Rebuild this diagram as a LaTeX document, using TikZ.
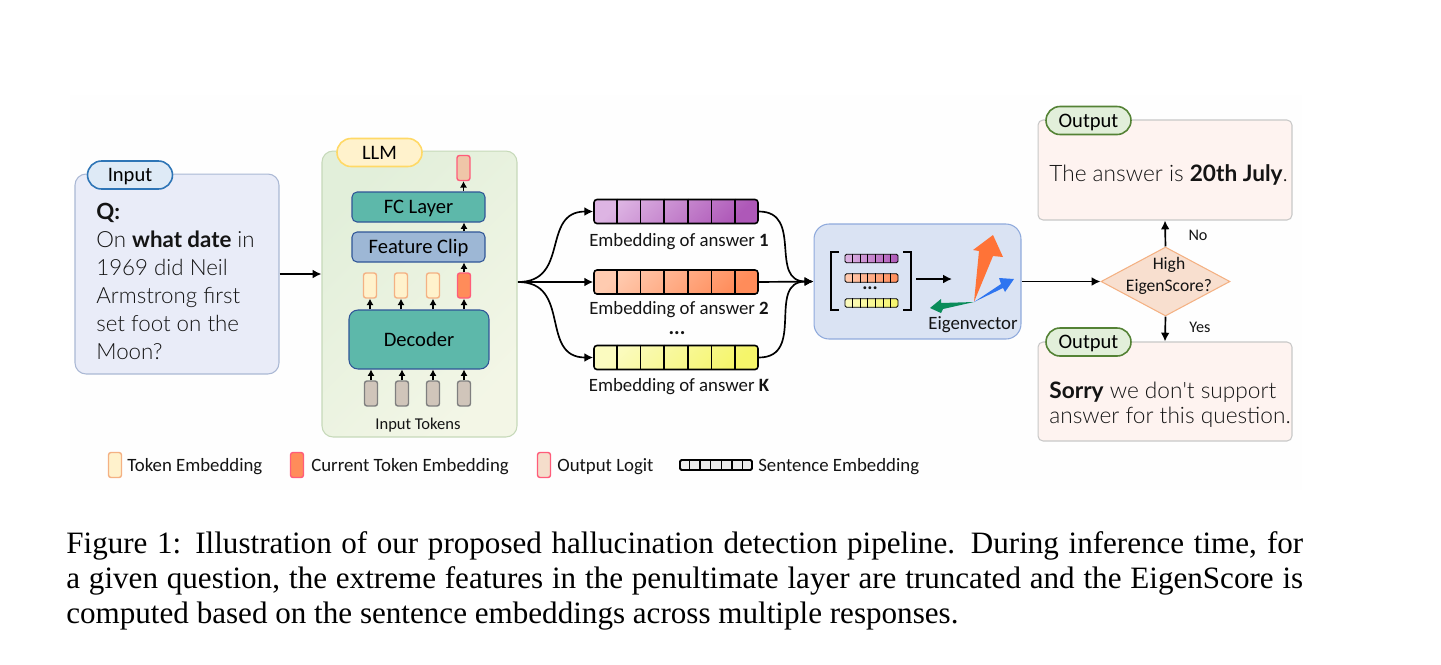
\documentclass[tikz,border=0pt]{standalone}
\usepackage{fontspec}
\setmainfont{Carlito}
\newfontfamily\handfont{Lato}[UprightFont=* Light, BoldFont=* Bold]
\newfontfamily\capfont{Liberation Serif}
\usepackage{xcolor}
\usepackage{tikz}
\usetikzlibrary{shapes.geometric, positioning, arrows.meta, calc}
\definecolor{HDInk}{RGB}{20,20,20}
\definecolor{HDTint}{RGB}{254,254,254}
\definecolor{HDInputFill}{RGB}{233,236,248}
\definecolor{HDInputEdge}{RGB}{170,184,212}
\definecolor{HDBlue}{RGB}{46,117,182}
\definecolor{HDPale}{RGB}{222,234,246}
\definecolor{HDYellow}{RGB}{255,242,204}
\definecolor{HDGold}{RGB}{255,217,102}
\definecolor{HDTeal}{RGB}{93,184,170}
\definecolor{HDNavy}{RGB}{47,85,151}
\definecolor{HDSteel}{RGB}{157,183,213}
\definecolor{HDPeach}{RGB}{244,177,131}
\definecolor{HDCoral}{RGB}{255,140,90}
\definecolor{HDPink}{RGB}{255,92,122}
\definecolor{HDLogit}{RGB}{239,198,168}
\definecolor{HDTaupe}{RGB}{208,197,186}
\definecolor{HDGray}{RGB}{127,127,127}
\definecolor{HDEigen}{RGB}{218,227,243}
\definecolor{HDEigenEdge}{RGB}{143,170,220}
\definecolor{HDRose}{RGB}{254,243,240}
\definecolor{HDRoseEdge}{RGB}{200,200,200}
\definecolor{HDLeaf}{RGB}{226,239,218}
\definecolor{HDGreen}{RGB}{84,130,53}
\definecolor{HDDiamond}{RGB}{248,223,207}
\definecolor{HDPurpleA}{RGB}{221,180,227}
\definecolor{HDPurpleB}{RGB}{174,88,184}
\definecolor{HDOrangeA}{RGB}{255,203,176}
\definecolor{HDLemonA}{RGB}{251,251,192}
\definecolor{HDLemonB}{RGB}{245,245,106}
\definecolor{HDArrowBlue}{RGB}{46,117,240}
\definecolor{HDArrowGreen}{RGB}{10,140,90}
\definecolor{HDArrowOrange}{RGB}{255,115,55}
\tikzset{
  pill/.style={draw, rounded corners=0.28cm, line width=0.9pt, minimum width=1.7cm,
    minimum height=0.56cm, inner sep=0pt, text height=0.26cm, text depth=0pt, font=\fontsize{11.7}{13}\selectfont},
  panel/.style={draw, rounded corners=0.22cm, line width=0.6pt, inner sep=0pt},
  block/.style={draw=HDNavy, rounded corners=0.1cm, line width=0.6pt, inner sep=0pt,
    minimum width=2.66cm, minimum height=0.6cm, text height=0.26cm, text depth=0pt, font=\fontsize{11.7}{13}\selectfont},
  chip/.style={rounded corners=0.05cm, line width=0.8pt, minimum width=0.26cm,
    minimum height=0.5cm, inner sep=0pt},
  tokenchip/.style={chip, draw=HDPeach, fill=HDYellow},
  currentchip/.style={chip, draw=HDPink, fill=HDCoral},
  logitchip/.style={chip, draw=HDPink, fill=HDLogit},
  inputchip/.style={chip, draw=HDGray, fill=HDTaupe},
  ansbar/.style={draw=black, rounded corners=0.06cm, line width=0.9pt, minimum width=3.28cm,
    minimum height=0.48cm, inner sep=0pt},
  minibar/.style={draw=black, rounded corners=0.03cm, line width=0.5pt, minimum width=1.06cm,
    minimum height=0.17cm, inner sep=0pt},
  plain/.style={inner sep=0pt, text=HDInk, font=\fontsize{10.7}{12}\selectfont},
  hand/.style={inner sep=0pt, text=HDInk, anchor=west, font=\handfont\fontsize{12.9}{14.2}\selectfont},
  flow/.style={-{Latex[length=5pt,width=5pt]}, line width=0.95pt},
  tiny/.style={-{Latex[length=3.6pt,width=4pt]}, line width=0.65pt}
}
\newcommand{\cellrules}[2]{\foreach \d in {1,...,6}
  \draw[line width=#2] ($(#1.north west)!\d/7!(#1.north east)$) -- ($(#1.south west)!\d/7!(#1.south east)$);}
\begin{document}
\begin{tikzpicture}[x=0.02cm, y=-0.02cm]
  \useasboundingbox (0,0) rectangle (1441,664);
  \fill[HDTint] (70,95) rectangle (1302,490);

  \node[panel, draw=HDInputEdge, fill=HDInputFill, minimum width=4.08cm, minimum height=4cm] (input) at (177,274) {};
  \node[pill, draw=HDBlue, fill=HDPale] (inputtag) at (130,175) {Input};
  \node[inner sep=0pt, anchor=north west, align=left, text=HDInk, font=\handfont\fontsize{12.7}{15.9}\selectfont] (question) at (96,203)
    {\textbf{Q:}\\On \textbf{what date} in\\1969 did Neil\\Armstrong first\\set foot on the\\Moon?};

  \node[panel, draw=HDLeaf!80!HDGreen, left color=HDLeaf, right color=HDYellow!30!HDLeaf!60!white, shading angle=45,
    minimum width=3.9cm, minimum height=5.72cm] (llm) at (419.5,294) {};
  \node[pill, draw=HDGold, fill=HDYellow] (llmtag) at (379.5,152.5) {LLM};
  \node[logitchip] (logit) at (463.5,168) {};
  \node[block, fill=HDTeal] (fc) at (418.5,207) {FC Layer};
  \node[block, fill=HDSteel] (clip) at (418.5,247) {Feature Clip};
  \node[tokenchip] (tokA) at (370,285.5) {};
  \node[tokenchip] (tokB) at (401,285.5) {};
  \node[tokenchip] (tokC) at (433,285.5) {};
  \node[currentchip] (tokD) at (464,285.5) {};
  \node[block, fill=HDTeal, rounded corners=0.18cm, minimum width=2.8cm, minimum height=1.18cm] (dec) at (419,339.5) {Decoder};
  \node[inputchip] (inA) at (371,393.5) {};
  \node[inputchip] (inB) at (402,393.5) {};
  \node[inputchip] (inC) at (433,393.5) {};
  \node[inputchip] (inD) at (464,393.5) {};
  \node[plain, font=\fontsize{9.4}{11}\selectfont] (inlabel) at (418,425) {Input Tokens};
  \draw[tiny] (inA.north) -- (inA.north |- dec.south);
  \draw[tiny] (inB.north) -- (inB.north |- dec.south);
  \draw[tiny] (inC.north) -- (inC.north |- dec.south);
  \draw[tiny] (inD.north) -- (inD.north |- dec.south);
  \draw[tiny] (tokA.south |- dec.north) -- (tokA.south);
  \draw[tiny] (tokB.south |- dec.north) -- (tokB.south);
  \draw[tiny] (tokC.south |- dec.north) -- (tokC.south);
  \draw[tiny] (tokD.south |- dec.north) -- (tokD.south);
  \draw[tiny] (tokD.north) -- (tokD.north |- clip.south);
  \draw[tiny] (tokD.north |- clip.north) -- (tokD.north |- fc.south);
  \draw[tiny] (logit.south |- fc.north) -- (logit.south);
  \draw[flow] (input.east) -- (llm.west |- input.east);

  \node[ansbar, left color=HDPurpleA, right color=HDPurpleB, shading angle=45] (ansA) at (676,211.5) {};
  \node[ansbar, left color=HDOrangeA, right color=HDCoral, shading angle=45] (ansB) at (676,282) {};
  \node[ansbar, left color=HDLemonA, right color=HDLemonB, shading angle=45] (ansC) at (676,357.5) {};
  \cellrules{ansA}{0.8pt}
  \cellrules{ansB}{0.8pt}
  \cellrules{ansC}{0.8pt}
  \node[plain] (ansAtext) at (679,242) {Embedding of answer \textbf{1}};
  \node[plain] (ansBtext) at (679,310) {Embedding of answer \textbf{2}};
  \node[plain, font=\bfseries\fontsize{12}{14}\selectfont] (ansdots) at (677,333) {...};
  \node[plain] (ansCtext) at (679,387) {Embedding of answer \textbf{K}};

  \coordinate (fan) at (518,282);
  \draw[flow] (fan) to[out=0, in=180, looseness=1.3] (ansA.west);
  \draw[flow] (fan) -- (ansB.west);
  \draw[flow] (fan) to[out=0, in=180, looseness=1.3] (ansC.west);

  \node[panel, draw=HDEigenEdge, fill=HDEigen, rounded corners=0.3cm, minimum width=4.14cm, minimum height=2.3cm] (eigen) at (917.5,281.5) {};
  \draw[flow] (ansA.east) to[out=0, in=180, looseness=1.3] (eigen.west);
  \draw[flow] (ansB.east) -- (eigen.west);
  \draw[flow] (ansC.east) to[out=0, in=180, looseness=1.3] (eigen.west);

  \node[minibar, left color=HDPurpleA, right color=HDPurpleB] (miniA) at (871.5,258.5) {};
  \node[minibar, left color=HDOrangeA, right color=HDCoral] (miniB) at (871.5,278) {};
  \node[minibar, left color=HDLemonA, right color=HDLemonB] (miniC) at (871.5,303) {};
  \cellrules{miniA}{0.4pt}
  \cellrules{miniB}{0.4pt}
  \cellrules{miniC}{0.4pt}
  \node[plain, font=\bfseries\fontsize{11}{13}\selectfont] (minidots) at (870,288) {...};
  \draw[line width=1.2pt] (839,252) -- (831,252) -- (831,310) -- (839,310);
  \draw[line width=1.2pt] (903,252) -- (911,252) -- (911,310) -- (903,310);
  \coordinate (matout) at (916,279);
  \coordinate (matto) at (952,279);
  \draw[flow] (matout) -- (matto);
  \fill[HDArrowOrange] (974,302) -- (979,251) -- (973,250) -- (993,235) -- (1003,257) -- (993,256) -- cycle;
  \fill[HDArrowBlue] (974,302) -- (1001,284) -- (999,278) -- (1014,279) -- (1005,292) -- (1003,288) -- cycle;
  \fill[HDArrowGreen] (974,302) -- (941,303) -- (941,299) -- (930,308) -- (941,313) -- (943,309) -- cycle;
  \node[plain] (eigenlabel) at (973,325) {Eigenvector};

  \node[diamond, draw=HDPeach, fill=HDDiamond, line width=0.6pt, minimum width=2.58cm, minimum height=1.38cm, inner sep=0pt] (score) at (1165.5,281.5) {};
  \node[plain, align=center, font=\fontsize{10}{12.5}\selectfont] (scoretext) at (1169,276) {High\\EigenScore?};
  \draw[flow] (eigen.east) -- (score.west);

  \node[panel, draw=HDRoseEdge, fill=HDRose, rounded corners=0.1cm, minimum width=5.08cm, minimum height=2cm] (outA) at (1165,170) {};
  \node[pill, draw=HDGreen, fill=HDLeaf] (outAtag) at (1088.5,120.5) {Output};
  \node[hand] (outAtext) at (1049,174.5) {The answer is \textbf{20th July}.};
  \node[panel, draw=HDRoseEdge, fill=HDRose, rounded corners=0.1cm, minimum width=5.08cm, minimum height=1.98cm] (outB) at (1165,391.5) {};
  \node[pill, draw=HDGreen, fill=HDLeaf] (outBtag) at (1088.5,342) {Output};
  \node[hand, align=left] (outBtext) at (1049,405) {\textbf{Sorry} we don't support\\answer for this question.};
  \draw[flow] (score.north) -- (outA.south);
  \draw[flow] (score.south) -- (outB.north);
  \node[plain, font=\fontsize{9.2}{11}\selectfont] (nolabel) at (1198,235) {No};
  \node[plain, font=\fontsize{9.2}{11}\selectfont] (yeslabel) at (1200,327) {Yes};

  \node[tokenchip] (keyA) at (115,465) {};
  \node[plain, anchor=west] (keyAtext) at (127,467) {Token Embedding};
  \node[currentchip] (keyB) at (297,465) {};
  \node[plain, anchor=west] (keyBtext) at (311,467) {Current Token Embedding};
  \node[logitchip, fill=HDLogit!60!white] (keyC) at (544,465) {};
  \node[plain, anchor=west] (keyCtext) at (557,467) {Output Logit};
  \node[minibar, fill=black!8, line width=1.1pt, minimum width=1.44cm, minimum height=0.2cm] (keyD) at (716,465) {};
  \cellrules{keyD}{0.8pt}
  \node[plain, anchor=west] (keyDtext) at (758,467) {Sentence Embedding};

  \node[inner sep=0pt, anchor=north west, text width=24.74cm, align=justify, text=black,
    font=\capfont\fontsize{17.7}{19.9}\selectfont] (caption) at (66,531)
    {Figure 1: Illustration of our proposed hallucination detection pipeline. During inference time, for\linebreak
     a given question, the extreme features in the penultimate layer are truncated and the EigenScore is\linebreak
     computed based on the sentence embeddings across multiple responses.};
\end{tikzpicture}
\end{document}
